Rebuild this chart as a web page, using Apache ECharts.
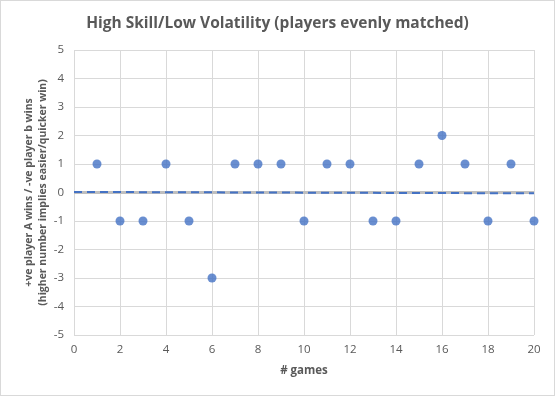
<!DOCTYPE html>
<html><head><meta charset="utf-8">
<script src="https://cdn.jsdelivr.net/npm/echarts@6/dist/echarts.min.js"></script>
<style>html,body{margin:0;padding:0;background:#fff}#c{width:555px;height:396px;box-sizing:border-box;border:1px solid #d9d9d9}</style>
</head><body><div id="c"></div>
<script>
const games = [1,2,3,4,5,6,7,8,9,10,11,12,13,14,15,16,17,18,19,20];
const outcome = [1,-1,-1,1,-1,-3,1,1,1,-1,1,1,-1,-1,1,2,1,-1,1,-1];
const trendX = [0, 20];
const trendY = [0.02, -0.03];
const xTicks = [0,2,4,6,8,10,12,14,16,18,20];
const yTicks = [-5,-4,-3,-2,-1,0,1,2,3,4,5];

const font = '"Open Sans", "Noto Sans", sans-serif';
const chart = echarts.init(document.getElementById('c'), null, {renderer:'canvas'});
chart.setOption({
  animation:false,
  title:{text:'High Skill/Low Volatility (players evenly matched)', left:'center', top:10,
    textStyle:{fontFamily:font, fontSize:15.5, fontWeight:'bold', color:'#595959'}},
  grid:{left:73, right:20, top:49, bottom:60},
  xAxis:{type:'value', min:xTicks[0], max:xTicks[xTicks.length-1], interval:2,
    name:'# games', nameLocation:'middle', nameGap:30,
    nameTextStyle:{fontFamily:font, fontSize:11.5, fontWeight:'bold', color:'#595959'},
    axisLine:{show:false}, axisTick:{show:false},
    axisLabel:{fontFamily:font, fontSize:11.5, color:'#595959', margin:9},
    splitLine:{show:true, lineStyle:{color:'#d9d9d9', width:1}}},
  yAxis:{type:'value', min:yTicks[0], max:yTicks[yTicks.length-1], interval:1,
    name:'+ve player A wins / -ve player b wins\n(higher number implies easier/quicker win)',
    nameLocation:'middle', nameGap:24, nameMoveOverlap:false,
    nameTextStyle:{fontFamily:font, fontSize:10.5, fontWeight:'bold', color:'#595959', lineHeight:14},
    axisLine:{show:false}, axisTick:{show:false},
    axisLabel:{fontFamily:font, fontSize:11.5, color:'#595959', margin:10},
    splitLine:{show:true, lineStyle:{color:'#d9d9d9', width:1}}},
  series:[
    {type:'line', data:[[0,0],[20,0]], symbol:'none', silent:true,
      lineStyle:{color:'#bfbfbf', width:3}, z:1},
    {type:'scatter', data:games.map((g,i)=>[g,outcome[i]]), symbolSize:9,
      itemStyle:{color:'#4472C4'}, z:3},
    {type:'line', data:trendX.map((x,i)=>[x,trendY[i]]), symbol:'none',
      lineStyle:{color:'#4472C4', width:2, type:[8,5]}, z:2}
  ]
});
</script></body></html>
